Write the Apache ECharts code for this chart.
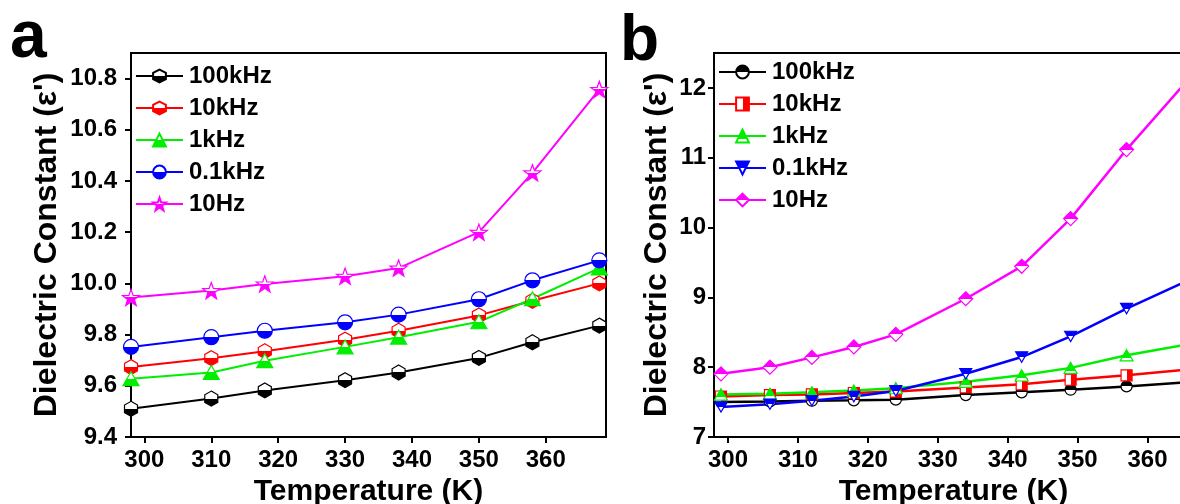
<!DOCTYPE html>
<html>
<head>
<meta charset="utf-8">
<script src="https://cdn.jsdelivr.net/npm/echarts@6/dist/echarts.min.js"></script>
<style>
html,body{margin:0;padding:0;background:#fff;}
#chart{width:1180px;height:504px;}
</style>
</head>
<body>
<div id="chart"></div>
<script>
// ---------- data ----------
const tempsA = [298, 310, 318, 330, 338, 350, 358, 368];
const a100kHz = [9.51, 9.55, 9.582, 9.622, 9.652, 9.709, 9.77, 9.835];
const a10kHz  = [9.673, 9.708, 9.735, 9.78, 9.815, 9.875, 9.932, 10.0];
const a1kHz   = [9.628, 9.652, 9.698, 9.752, 9.79, 9.85, 9.94, 10.06];
const a01kHz  = [9.752, 9.79, 9.815, 9.848, 9.878, 9.938, 10.012, 10.09];
const a10Hz   = [9.945, 9.972, 9.998, 10.028, 10.06, 10.2, 10.432, 10.758];

const tempsB = [299, 306, 312, 318, 324, 334, 342, 349, 357, 366];
const b100kHz = [7.5, 7.51, 7.52, 7.525, 7.535, 7.6, 7.64, 7.678, 7.725, 7.785];
const b10kHz  = [7.58, 7.6, 7.61, 7.63, 7.65, 7.71, 7.755, 7.82, 7.883, 7.97];
const b1kHz   = [7.61, 7.62, 7.64, 7.665, 7.7, 7.79, 7.883, 7.99, 8.17, 8.33];
const b01kHz  = [7.43, 7.47, 7.52, 7.58, 7.66, 7.905, 8.145, 8.44, 8.84, 9.25];
const b10Hz   = [7.905, 8.0, 8.14, 8.29, 8.47, 8.98, 9.445, 10.128, 11.117, 12.14];

const seriesNames = ['100kHz', '10kHz', '1kHz', '0.1kHz', '10Hz'];
const xTicks = [300, 310, 320, 330, 340, 350, 360];
const yTicksA = [9.4, 9.6, 9.8, 10.0, 10.2, 10.4, 10.6, 10.8];
const yTicksB = [7, 8, 9, 10, 11, 12];

// ---------- styling helpers ----------
const FONT = '"Liberation Sans", Arial, sans-serif';
const colors = ['#000000', '#ff0000', '#00ee00', '#0000ff', '#ff00ff'];

function half(c, mode, split) {
  // mode: 'topHollow' | 'topFilled' | 'leftHollow'
  const s = split === undefined ? 0.5 : split;
  const w = '#ffffff';
  let first = w, second = c, x2 = 0, y2 = 1;
  if (mode === 'topFilled') { first = c; second = w; }
  if (mode === 'leftHollow') { x2 = 1; y2 = 0; }
  return {type: 'linear', x: 0, y: 0, x2: x2, y2: y2, colorStops: [
    {offset: 0, color: first}, {offset: s, color: first},
    {offset: s, color: second}, {offset: 1, color: second}]};
}
const HEX = 'path://M0,-10L8.66,-5L8.66,5L0,10L-8.66,5L-8.66,-5Z';
const STAR = 'path://M0,-10L2.351,-3.236L9.511,-3.09L3.804,1.236L5.878,8.09L0,4L-5.878,8.09L-3.804,1.236L-9.511,-3.09L-2.351,-3.236Z';
const DTRI = 'path://M-10,-8.66L10,-8.66L0,8.66Z';
const UTRI = 'path://M0,-8.66L10,8.66L-10,8.66Z';

const symA = [HEX, HEX, UTRI, 'circle', STAR];
const fillA = ['topHollow', 'topHollow', 'topHollow', 'topHollow', 'topHollow'];
const splitA = [0.5, 0.5, 0.5, 0.5, 0.5];
const sizeA = [15, 15, 16, 15, 17];
const symB = ['circle', 'rect', UTRI, DTRI, 'diamond'];
const fillB = ['topFilled', 'leftHollow', 'topFilled', 'topFilled', 'topFilled'];
const splitB = [0.5, 0.5, 0.72, 0.5, 0.5];
const sizeB = [11, 11, 13, 12, 14];

const dataA = [a100kHz, a10kHz, a1kHz, a01kHz, a10Hz];
const dataB = [b100kHz, b10kHz, b1kHz, b01kHz, b10Hz];

function mkSeries(panel, idx, temps, vals, sym, fill, split, size, lw) {
  return {
    type: 'line',
    name: panel + '|' + seriesNames[idx],
    xAxisIndex: panel === 'a' ? 0 : 1,
    yAxisIndex: panel === 'a' ? 0 : 1,
    data: temps.map((t, i) => [t, vals[i]]),
    symbol: sym,
    symbolSize: size,
    symbolKeepAspect: true,
    showAllSymbol: true,
    lineStyle: {color: colors[idx], width: lw},
    itemStyle: {color: half(colors[idx], fill, split), borderColor: colors[idx], borderWidth: 1.2},
    emphasis: {disabled: true},
    animation: false
  };
}

const series = [];
for (let i = 0; i < 5; i++) series.push(mkSeries('a', i, tempsA, dataA[i], symA[i], fillA[i], splitA[i], sizeA[i], 2));
for (let i = 0; i < 5; i++) series.push(mkSeries('b', i, tempsB, dataB[i], symB[i], fillB[i], splitB[i], sizeB[i], 2.5));

const labelStyle = {color: '#000', fontFamily: FONT, fontWeight: 'bold', fontSize: 24};
const xNameStyle = {color: '#000', fontFamily: FONT, fontWeight: 'bold', fontSize: 30};
const yNameStyle = {color: '#000', fontFamily: FONT, fontWeight: 'bold', fontSize: 32};
const axisLine = {show: true, onZero: false, lineStyle: {color: '#000', width: 2}};
const axisTick = (vals) => ({show: true, inside: false, length: 6, customValues: vals, lineStyle: {color: '#000', width: 2}});

function xAxis(gi, max) {
  return {
    type: 'value', gridIndex: gi, min: 298, max: max,
    name: 'Temperature (K)', nameLocation: 'middle', nameGap: 32, nameTextStyle: xNameStyle,
    axisLine: axisLine, axisTick: axisTick(xTicks),
    axisLabel: Object.assign({customValues: xTicks, margin: 11}, labelStyle),
    splitLine: {show: false}
  };
}
function yAxis(gi, min, max, ticks, dec, gap, margin) {
  return {
    type: 'value', gridIndex: gi, min: min, max: max,
    name: "Dielectric Constant (ε')", nameLocation: 'middle', nameGap: gap, nameTextStyle: yNameStyle,
    axisLine: axisLine, axisTick: axisTick(ticks),
    axisLabel: Object.assign({customValues: ticks, margin: margin,
      formatter: v => Number(v).toFixed(dec)}, labelStyle),
    splitLine: {show: false}
  };
}

function legend(panel, left, top) {
  return {
    show: true, orient: 'vertical', left: left, top: top, padding: 0,
    itemWidth: 47, itemHeight: 16, itemGap: 8,
    data: seriesNames.map(n => panel + '|' + n),
    formatter: n => n.split('|')[1],
    textStyle: {color: '#000', fontFamily: FONT, fontWeight: 'bold', fontSize: 24, lineHeight: 24, padding: [0, 0, 0, 1]},
    selectedMode: false
  };
}

const option = {
  backgroundColor: '#fff',
  animation: false,
  grid: [
    {left: 131, top: 53, width: 475, height: 384, show: true, borderColor: '#000', borderWidth: 2, outerBoundsMode: 'none', containLabel: false},
    {left: 714, top: 53, width: 479, height: 384, show: true, borderColor: '#000', borderWidth: 2, outerBoundsMode: 'none', containLabel: false}
  ],
  xAxis: [xAxis(0, 369), xAxis(1, 366.5)],
  yAxis: [yAxis(0, 9.4, 10.9, yTicksA, 1, 68, 14), yAxis(1, 7, 12.5, yTicksB, 0, 41, 8)],
  legend: [legend('a', 135, 64), legend('b', 718, 60)],
  graphic: [
    {type: 'text', x: 10, y: 39, style: {text: 'a', font: 'bold 66px ' + FONT, fill: '#000', verticalAlign: 'middle', align: 'left'}},
    {type: 'text', x: 620, y: 42, style: {text: 'b', font: 'bold 64px ' + FONT, fill: '#000', verticalAlign: 'middle', align: 'left'}}
  ],
  series: series
};

const chart = echarts.init(document.getElementById('chart'), null, {renderer: 'canvas'});
chart.setOption(option);
</script>
</body>
</html>
